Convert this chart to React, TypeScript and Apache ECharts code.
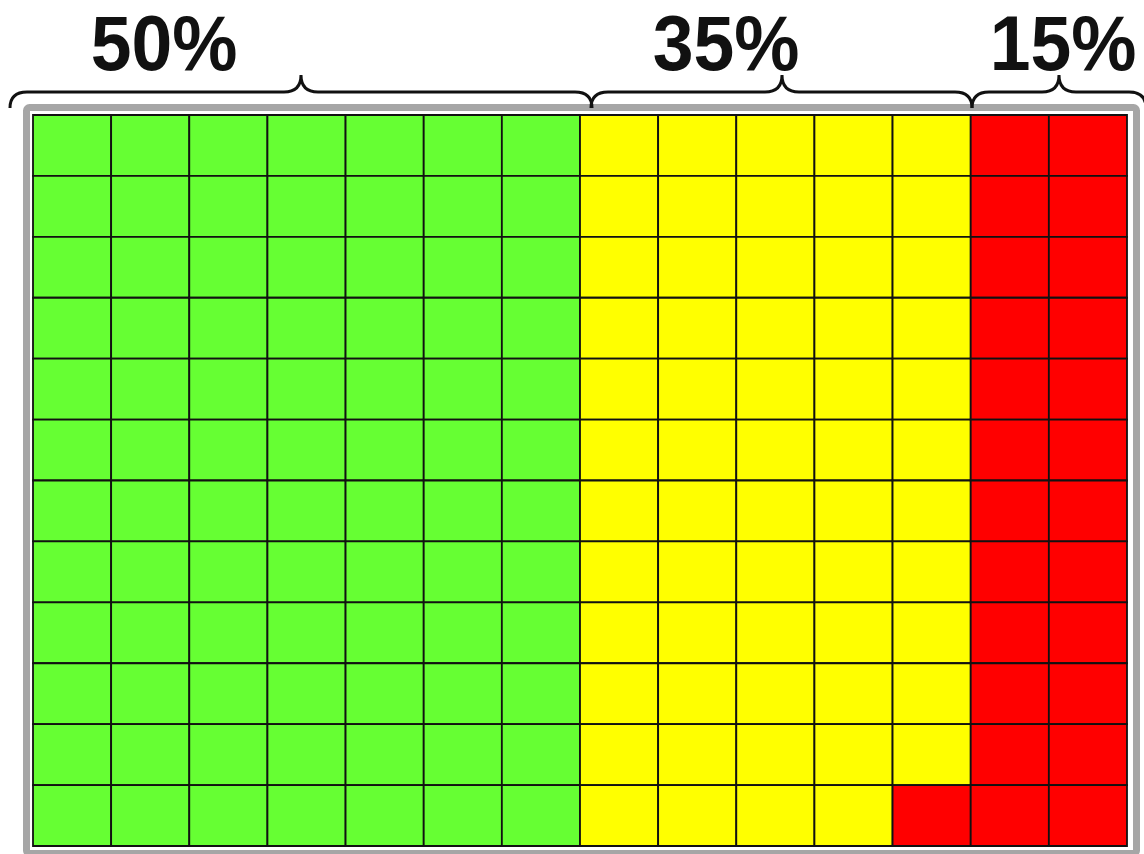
import React, { useEffect, useRef } from "react";
import * as echarts from "echarts";

// Waffle layout: 14 columns x 12 rows, filled column by column, top to bottom
const COLUMNS = 14;
const ROWS = 12;

const categories = ["Green", "Yellow", "Red"];
const cellCounts = [84, 59, 25];
const categoryColors = ["#66ff33", "#ffff00", "#ff0000"];

const columnLabels = Array.from({ length: COLUMNS }, (_, i) => String(i + 1));
const rowLabels = Array.from({ length: ROWS }, (_, i) => String(i + 1));

const total = cellCounts.reduce((a, b) => a + b, 0);
const percentLabels = cellCounts.map((c) => Math.round((c / total) * 100) + "%");

// Build one cell per unit: [column, row, category index]
const cells: number[][] = [];
{
  let k = 0;
  cellCounts.forEach((count, ci) => {
    for (let j = 0; j < count; j++, k++) {
      cells.push([Math.floor(k / ROWS), k % ROWS, ci]);
    }
  });
}

// Curly braces above each group (pixel spans), and label centres
const braceGeom = [
  { x0: 10, x1: 592, tip: 301 },
  { x0: 591, x1: 972, tip: 782 },
  { x0: 972, x1: 1146, tip: 1059 },
];
const labelX = [164, 726, 1063];

const Y_END = 108;
const Y_FLAT = 92;
const Y_TIP = 75;
const R = 17;

function bracePath(x0: number, x1: number, tip: number) {
  return [
    `M ${x0} ${Y_END}`,
    `Q ${x0} ${Y_FLAT} ${x0 + R} ${Y_FLAT}`,
    `L ${tip - R} ${Y_FLAT}`,
    `Q ${tip} ${Y_FLAT} ${tip} ${Y_TIP}`,
    `Q ${tip} ${Y_FLAT} ${tip + R} ${Y_FLAT}`,
    `L ${x1 - R} ${Y_FLAT}`,
    `Q ${x1} ${Y_FLAT} ${x1} ${Y_END}`,
  ].join(" ");
}

braceGeom.forEach((b, i) => {
  echarts.graphic.registerShape(
    "brace" + i,
    echarts.graphic.extendPath(bracePath(b.x0, b.x1, b.tip), {})
  );
});

export default function App() {
  const ref = useRef<HTMLDivElement>(null);

  useEffect(() => {
    if (!ref.current) return;
    const chart = echarts.init(ref.current, null, { renderer: "svg" });

    const graphics: any[] = [
      {
        type: "rect",
        z: 0,
        shape: { x: 26.5, y: 107.5, width: 1110, height: 746, r: 3 },
        style: { fill: "none", stroke: "#a6a6a6", lineWidth: 7 },
      },
    ];
    braceGeom.forEach((_, i) => {
      graphics.push({
        type: "brace" + i,
        x: 0,
        y: 0,
        z: 10,
        style: { fill: "none", stroke: "#111111", lineWidth: 3 },
      });
    });
    percentLabels.forEach((t, i) => {
      graphics.push({
        type: "text",
        x: labelX[i],
        y: 43,
        scaleX: 0.94,
        z: 10,
        style: {
          text: t,
          fill: "#111111",
          font: 'bold 78px "Liberation Sans", Arial, sans-serif',
          lineHeight: 60,
          textAlign: "center",
          textVerticalAlign: "middle",
        },
      });
    });

    chart.setOption({
      animation: false,
      backgroundColor: "#ffffff",
      grid: { left: 33, top: 115, width: 1094, height: 731 },
      xAxis: {
        type: "category",
        data: columnLabels,
        show: false,
      },
      yAxis: {
        type: "category",
        data: rowLabels,
        inverse: true,
        show: false,
      },
      graphic: graphics,
      series: [
        {
          type: "custom",
          name: "Cells",
          data: cells,
          renderItem: (params: any, api: any) => {
            const p = api.coord([api.value(0), api.value(1)]);
            const s = api.size([1, 1]);
            return {
              type: "rect",
              shape: {
                x: p[0] - s[0] / 2,
                y: p[1] - s[1] / 2,
                width: s[0],
                height: s[1],
              },
              style: {
                fill: categoryColors[api.value(2)],
                stroke: "#111111",
                lineWidth: 1.8,
              },
            };
          },
        },
      ],
    });

    return () => chart.dispose();
  }, []);

  return (
    <div
      ref={ref}
      style={{ position: "fixed", left: 0, top: 0, width: 1144, height: 854 }}
    />
  );
}
